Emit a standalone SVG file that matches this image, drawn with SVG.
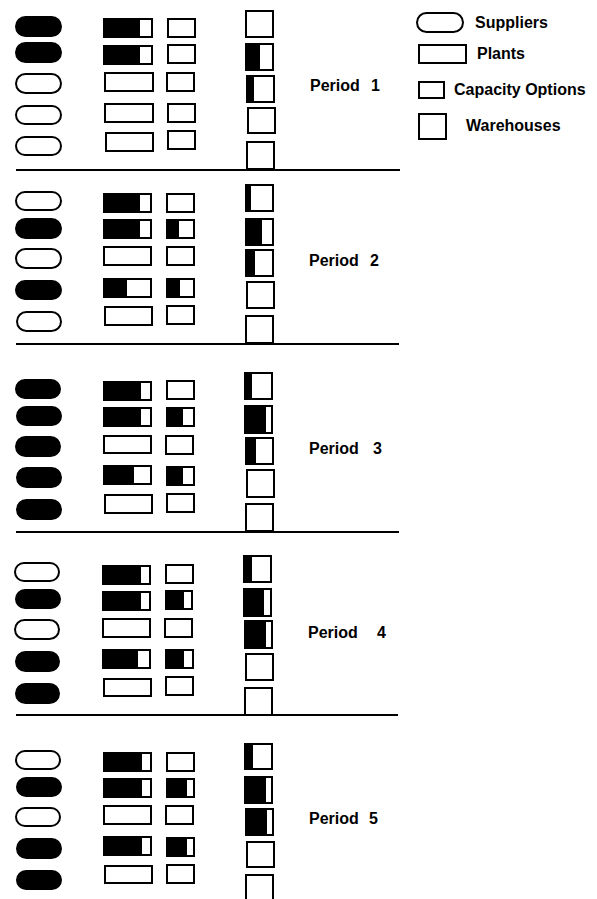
<svg xmlns="http://www.w3.org/2000/svg" width="597" height="899" viewBox="0 0 597 899">
<style>
.o{fill:#fff;stroke:#000;stroke-width:2}
.sb{fill:#000;stroke:#000;stroke-width:2}
.b{fill:#000}
.ln{stroke:#000;stroke-width:2;fill:none}
text{font-family:"Liberation Sans",Arial,sans-serif;font-weight:bold;font-size:16px;fill:#000}
</style>
<rect width="597" height="899" fill="#fff"/>
<g id="legend">
<g id="legend-suppliers"><rect class="o" x="417" y="13" width="46" height="19" rx="9.5"/><text x="475" y="28">Suppliers</text></g>
<g id="legend-plants"><rect class="o" x="419" y="45" width="47" height="18"/><text x="477" y="59">Plants</text></g>
<g id="legend-capacity"><rect class="o" x="419" y="82" width="25" height="16"/><text x="454" y="95">Capacity Options</text></g>
<g id="legend-warehouses"><rect class="o" x="419" y="114" width="27" height="25"/><text x="466" y="131">Warehouses</text></g>
</g>
<g id="separators">
<line class="ln" x1="16" y1="170" x2="400" y2="170"/>
<line class="ln" x1="16" y1="344" x2="399" y2="344"/>
<line class="ln" x1="16" y1="532" x2="399" y2="532"/>
<line class="ln" x1="16" y1="715" x2="398" y2="715"/>
</g>
<!-- Period 1 -->
<g id="period1">
<g id="p1-s1"><rect class="sb" x="16" y="17" width="45" height="19" rx="9.5"/></g>
<g id="p1-s2"><rect class="sb" x="16" y="43" width="45" height="19" rx="9.5"/></g>
<g id="p1-s3"><rect class="o" x="16" y="74" width="45" height="19" rx="9.5"/></g>
<g id="p1-s4"><rect class="o" x="16" y="106" width="45" height="18" rx="9"/></g>
<g id="p1-s5"><rect class="o" x="16" y="137" width="45" height="18" rx="9"/></g>
<g id="p1-p1"><rect class="o" x="104" y="19" width="48" height="18"/><rect class="b" x="104" y="19" width="36" height="18"/></g>
<g id="p1-p2"><rect class="o" x="104" y="46" width="48" height="18"/><rect class="b" x="104" y="46" width="36" height="18"/></g>
<g id="p1-p3"><rect class="o" x="105" y="73" width="48" height="18"/></g>
<g id="p1-p4"><rect class="o" x="105" y="104" width="48" height="18"/></g>
<g id="p1-p5"><rect class="o" x="106" y="133" width="47" height="18"/></g>
<g id="p1-c1"><rect class="o" x="168" y="19" width="27" height="18"/></g>
<g id="p1-c2"><rect class="o" x="168" y="45" width="27" height="18"/></g>
<g id="p1-c3"><rect class="o" x="167" y="73" width="27" height="18"/></g>
<g id="p1-c4"><rect class="o" x="168" y="104" width="27" height="18"/></g>
<g id="p1-c5"><rect class="o" x="168" y="131" width="27" height="18"/></g>
<g id="p1-w1"><rect class="o" x="246" y="11" width="27" height="26"/></g>
<g id="p1-w2"><rect class="o" x="246" y="44" width="27" height="26"/><rect class="b" x="246" y="44" width="14" height="26"/></g>
<g id="p1-w3"><rect class="o" x="247" y="76" width="27" height="26"/><rect class="b" x="247" y="76" width="7" height="26"/></g>
<g id="p1-w4"><rect class="o" x="248" y="108" width="27" height="25"/></g>
<g id="p1-w5"><rect class="o" x="247" y="142" width="27" height="27"/></g>
<text x="310" y="91">Period<tspan x="371">1</tspan></text>
</g>
<!-- Period 2 -->
<g id="period2">
<g id="p2-s1"><rect class="o" x="16" y="192" width="45" height="18" rx="9"/></g>
<g id="p2-s2"><rect class="sb" x="16" y="219" width="45" height="19" rx="9.5"/></g>
<g id="p2-s3"><rect class="o" x="16" y="249" width="45" height="19" rx="9.5"/></g>
<g id="p2-s4"><rect class="sb" x="16" y="281" width="45" height="18" rx="9"/></g>
<g id="p2-s5"><rect class="o" x="17" y="312" width="44" height="19" rx="9.5"/></g>
<g id="p2-p1"><rect class="o" x="104" y="194" width="47" height="18"/><rect class="b" x="104" y="194" width="36" height="18"/></g>
<g id="p2-p2"><rect class="o" x="104" y="220" width="47" height="18"/><rect class="b" x="104" y="220" width="36" height="18"/></g>
<g id="p2-p3"><rect class="o" x="104" y="247" width="47" height="18"/></g>
<g id="p2-p4"><rect class="o" x="104" y="279" width="47" height="18"/><rect class="b" x="104" y="279" width="23" height="18"/></g>
<g id="p2-p5"><rect class="o" x="105" y="307" width="47" height="18"/></g>
<g id="p2-c1"><rect class="o" x="167" y="194" width="27" height="18"/></g>
<g id="p2-c2"><rect class="o" x="167" y="220" width="27" height="18"/><rect class="b" x="167" y="220" width="12" height="18"/></g>
<g id="p2-c3"><rect class="o" x="167" y="247" width="27" height="18"/></g>
<g id="p2-c4"><rect class="o" x="167" y="279" width="27" height="18"/><rect class="b" x="167" y="279" width="13" height="18"/></g>
<g id="p2-c5"><rect class="o" x="167" y="306" width="27" height="18"/></g>
<g id="p2-w1"><rect class="o" x="246" y="185" width="27" height="26"/><rect class="b" x="246" y="185" width="5" height="26"/></g>
<g id="p2-w2"><rect class="o" x="246" y="219" width="27" height="26"/><rect class="b" x="246" y="219" width="16" height="26"/></g>
<g id="p2-w3"><rect class="o" x="246" y="250" width="27" height="26"/><rect class="b" x="246" y="250" width="9" height="26"/></g>
<g id="p2-w4"><rect class="o" x="247" y="282" width="27" height="26"/></g>
<g id="p2-w5"><rect class="o" x="246" y="316" width="27" height="27"/></g>
<text x="309" y="266">Period<tspan x="370">2</tspan></text>
</g>
<!-- Period 3 -->
<g id="period3">
<g id="p3-s1"><rect class="sb" x="16" y="380" width="44" height="18" rx="9"/></g>
<g id="p3-s2"><rect class="sb" x="17" y="407" width="44" height="18" rx="9"/></g>
<g id="p3-s3"><rect class="sb" x="16" y="437" width="44" height="19" rx="9.5"/></g>
<g id="p3-s4"><rect class="sb" x="17" y="468" width="44" height="19" rx="9.5"/></g>
<g id="p3-s5"><rect class="sb" x="17" y="500" width="44" height="19" rx="9.5"/></g>
<g id="p3-p1"><rect class="o" x="104" y="382" width="47" height="18"/><rect class="b" x="104" y="382" width="37" height="18"/></g>
<g id="p3-p2"><rect class="o" x="104" y="408" width="47" height="18"/><rect class="b" x="104" y="408" width="37" height="18"/></g>
<g id="p3-p3"><rect class="o" x="104" y="436" width="47" height="17"/></g>
<g id="p3-p4"><rect class="o" x="104" y="466" width="47" height="18"/><rect class="b" x="104" y="466" width="30" height="18"/></g>
<g id="p3-p5"><rect class="o" x="105" y="495" width="47" height="18"/></g>
<g id="p3-c1"><rect class="o" x="167" y="381" width="27" height="18"/></g>
<g id="p3-c2"><rect class="o" x="167" y="408" width="27" height="18"/><rect class="b" x="167" y="408" width="16" height="18"/></g>
<g id="p3-c3"><rect class="o" x="166" y="436" width="27" height="18"/></g>
<g id="p3-c4"><rect class="o" x="167" y="467" width="27" height="18"/><rect class="b" x="167" y="467" width="16" height="18"/></g>
<g id="p3-c5"><rect class="o" x="167" y="494" width="27" height="18"/></g>
<g id="p3-w1"><rect class="o" x="245" y="373" width="27" height="26"/><rect class="b" x="245" y="373" width="7" height="26"/></g>
<g id="p3-w2"><rect class="o" x="245" y="406" width="27" height="27"/><rect class="b" x="245" y="406" width="21" height="27"/></g>
<g id="p3-w3"><rect class="o" x="246" y="438" width="27" height="26"/><rect class="b" x="246" y="438" width="10" height="26"/></g>
<g id="p3-w4"><rect class="o" x="247" y="470" width="27" height="27"/></g>
<g id="p3-w5"><rect class="o" x="246" y="504" width="27" height="27"/></g>
<text x="309" y="454">Period<tspan x="373">3</tspan></text>
</g>
<!-- Period 4 -->
<g id="period4">
<g id="p4-s1"><rect class="o" x="15" y="563" width="44" height="18" rx="9"/></g>
<g id="p4-s2"><rect class="sb" x="16" y="590" width="44" height="18" rx="9"/></g>
<g id="p4-s3"><rect class="o" x="15" y="620" width="44" height="19" rx="9.5"/></g>
<g id="p4-s4"><rect class="sb" x="16" y="652" width="43" height="19" rx="9.5"/></g>
<g id="p4-s5"><rect class="sb" x="16" y="684" width="43" height="19" rx="9.5"/></g>
<g id="p4-p1"><rect class="o" x="103" y="566" width="47" height="18"/><rect class="b" x="103" y="566" width="38" height="18"/></g>
<g id="p4-p2"><rect class="o" x="103" y="592" width="47" height="18"/><rect class="b" x="103" y="592" width="38" height="18"/></g>
<g id="p4-p3"><rect class="o" x="103" y="619" width="47" height="18"/></g>
<g id="p4-p4"><rect class="o" x="103" y="650" width="47" height="18"/><rect class="b" x="103" y="650" width="35" height="18"/></g>
<g id="p4-p5"><rect class="o" x="104" y="679" width="47" height="17"/></g>
<g id="p4-c1"><rect class="o" x="166" y="565" width="27" height="18"/></g>
<g id="p4-c2"><rect class="o" x="166" y="591" width="26" height="18"/><rect class="b" x="166" y="591" width="18" height="18"/></g>
<g id="p4-c3"><rect class="o" x="165" y="619" width="27" height="18"/></g>
<g id="p4-c4"><rect class="o" x="166" y="650" width="27" height="18"/><rect class="b" x="166" y="650" width="18" height="18"/></g>
<g id="p4-c5"><rect class="o" x="166" y="677" width="27" height="18"/></g>
<g id="p4-w1"><rect class="o" x="244" y="556" width="27" height="26"/><rect class="b" x="244" y="556" width="8" height="26"/></g>
<g id="p4-w2"><rect class="o" x="244" y="589" width="27" height="27"/><rect class="b" x="244" y="589" width="20" height="27"/></g>
<g id="p4-w3"><rect class="o" x="245" y="621" width="27" height="27"/><rect class="b" x="245" y="621" width="21" height="27"/></g>
<g id="p4-w4"><rect class="o" x="246" y="654" width="27" height="26"/></g>
<g id="p4-w5"><rect class="o" x="245" y="688" width="27" height="27"/></g>
<text x="308" y="638">Period<tspan x="377">4</tspan></text>
</g>
<!-- Period 5 -->
<g id="period5">
<g id="p5-s1"><rect class="o" x="16" y="751" width="44" height="18" rx="9"/></g>
<g id="p5-s2"><rect class="sb" x="17" y="778" width="44" height="18" rx="9"/></g>
<g id="p5-s3"><rect class="o" x="16" y="808" width="44" height="18" rx="9"/></g>
<g id="p5-s4"><rect class="sb" x="17" y="839" width="44" height="19" rx="9.5"/></g>
<g id="p5-s5"><rect class="sb" x="17" y="871" width="44" height="18" rx="9"/></g>
<g id="p5-p1"><rect class="o" x="104" y="753" width="47" height="18"/><rect class="b" x="104" y="753" width="38" height="18"/></g>
<g id="p5-p2"><rect class="o" x="104" y="779" width="47" height="18"/><rect class="b" x="104" y="779" width="38" height="18"/></g>
<g id="p5-p3"><rect class="o" x="104" y="806" width="47" height="18"/></g>
<g id="p5-p4"><rect class="o" x="104" y="837" width="47" height="18"/><rect class="b" x="104" y="837" width="38" height="18"/></g>
<g id="p5-p5"><rect class="o" x="105" y="866" width="47" height="17"/></g>
<g id="p5-c1"><rect class="o" x="167" y="753" width="27" height="18"/></g>
<g id="p5-c2"><rect class="o" x="167" y="779" width="27" height="18"/><rect class="b" x="167" y="779" width="20" height="18"/></g>
<g id="p5-c3"><rect class="o" x="166" y="806" width="27" height="18"/></g>
<g id="p5-c4"><rect class="o" x="167" y="838" width="27" height="18"/><rect class="b" x="167" y="838" width="20" height="18"/></g>
<g id="p5-c5"><rect class="o" x="167" y="865" width="27" height="18"/></g>
<g id="p5-w1"><rect class="o" x="245" y="744" width="27" height="25"/><rect class="b" x="245" y="744" width="8" height="25"/></g>
<g id="p5-w2"><rect class="o" x="245" y="777" width="27" height="26"/><rect class="b" x="245" y="777" width="21" height="26"/></g>
<g id="p5-w3"><rect class="o" x="246" y="809" width="27" height="26"/><rect class="b" x="246" y="809" width="21" height="26"/></g>
<g id="p5-w4"><rect class="o" x="247" y="842" width="27" height="25"/></g>
<g id="p5-w5"><rect class="o" x="246" y="875" width="27" height="30"/></g>
<text x="309" y="824">Period<tspan x="369">5</tspan></text>
</g>
</svg>
